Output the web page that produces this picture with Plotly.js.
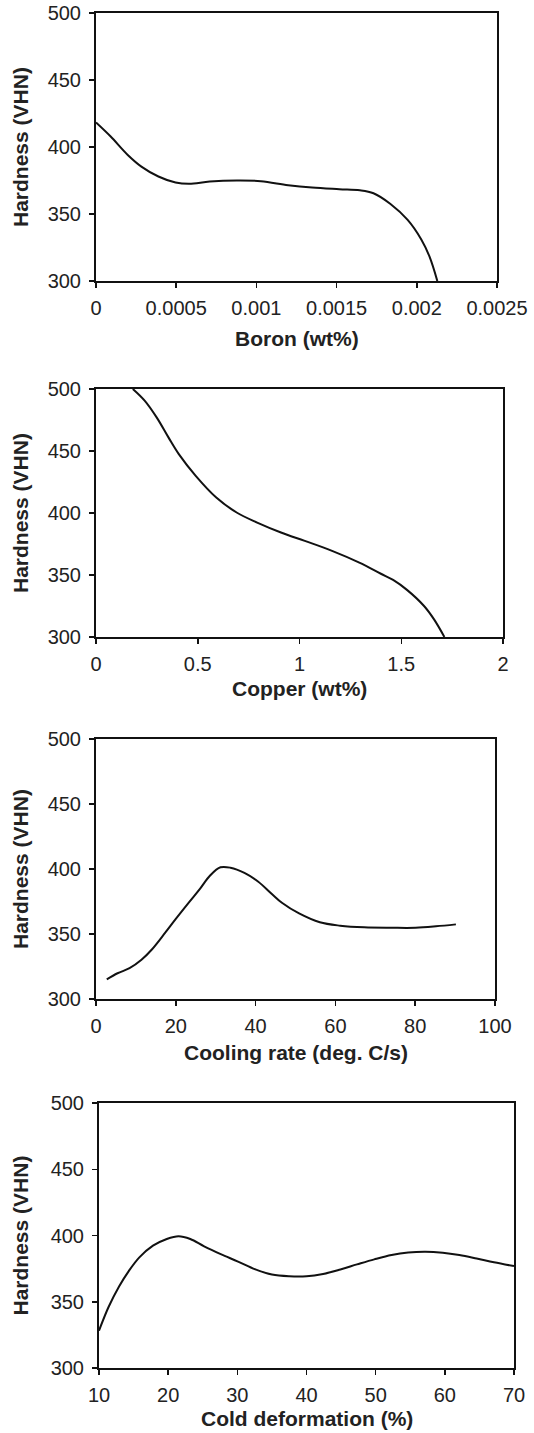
<!DOCTYPE html>
<html>
<head>
<meta charset="utf-8">
<script src="https://cdn.plot.ly/plotly-3.0.1.min.js"></script>
<style>
html,body{margin:0;padding:0;background:#fff;}
#chart{width:534px;height:1433px;}
</style>
</head>
<body>
<div id="chart"></div>
<script>
// ---- Data ----
const boronX = [0, 0.0000915, 0.000198, 0.000283, 0.000389, 0.000496, 0.000581, 0.000709, 0.000879, 0.001028, 0.001198, 0.001347, 0.001517, 0.001645, 0.00173, 0.001836, 0.001943, 0.002028, 0.00208, 0.002128];
const boronY = [418.3, 407.8, 394.1, 385.4, 378, 373.5, 372.5, 374.2, 375, 374.5, 371.5, 369.7, 368.5, 367.7, 365.5, 357.5, 345.6, 331, 318, 300];

const copperX = [0.181, 0.239, 0.298, 0.356, 0.407, 0.49, 0.591, 0.691, 0.792, 0.909, 1.026, 1.16, 1.294, 1.4, 1.46, 1.528, 1.612, 1.662, 1.712];
const copperY = [500, 490.6, 477.1, 461, 447.5, 430, 412.5, 400.4, 392.3, 384.3, 377.5, 369.5, 360, 351, 346, 338, 325, 314, 300];

const coolX = [2.7, 5.4, 8.4, 11.4, 14, 17.4, 20, 23.4, 26, 28.6, 31.2, 33.7, 37.2, 40.6, 44, 46.6, 50.9, 56.1, 61.2, 67.2, 74.1, 80.1, 85.2, 90.2];
const coolY = [315.1, 319.8, 323.7, 330.2, 338.1, 351.2, 361.6, 374.7, 384.5, 395, 401.3, 401, 397, 390.4, 381, 374, 365.8, 359, 356.4, 355.1, 354.8, 354.8, 355.9, 357.4];

const coldX = [10, 11.4, 12.9, 14.3, 15.8, 17.8, 19.8, 21.5, 23.2, 25.2, 27.6, 30.1, 32.6, 35, 37.5, 40, 42.4, 44.9, 47.3, 49.8, 52.3, 54.7, 57.2, 59.7, 62.1, 64.6, 67.1, 70];
const coldY = [328.2, 346.2, 361.5, 373.1, 383.3, 392.3, 397.4, 399.5, 397.4, 391.8, 385.9, 380.3, 374.4, 370.5, 369.2, 369.2, 371, 374.4, 378.2, 382, 385.3, 387.2, 387.8, 387, 385.2, 382.6, 379.8, 376.9];

const yTicks = [300, 350, 400, 450, 500];
const yTickText = ['300', '350', '400', '450', '500'];

const boronTicks = [0, 0.0005, 0.001, 0.0015, 0.002, 0.0025];
const boronTickText = ['0', '0.0005', '0.001', '0.0015', '0.002', '0.0025'];
const copperTicks = [0, 0.5, 1, 1.5, 2];
const copperTickText = ['0', '0.5', '1', '1.5', '2'];
const coolTicks = [0, 20, 40, 60, 80, 100];
const coolTickText = ['0', '20', '40', '60', '80', '100'];
const coldTicks = [10, 20, 30, 40, 50, 60, 70];
const coldTickText = ['10', '20', '30', '40', '50', '60', '70'];

const yTitle = 'Hardness (VHN)';
const xTitles = ['Boron (wt%)', 'Copper (wt%)', 'Cooling rate (deg. C/s)', 'Cold deformation (%)'];

// ---- Layout geometry (pixels) ----
const W = 534, H = 1433;
const boxes = [
  {l: 96, r: 497, t: 13, b: 281, xt: 338},
  {l: 96, r: 503, t: 389, b: 637, xt: 689},
  {l: 96, r: 495, t: 739, b: 999, xt: 1052},
  {l: 99, r: 514, t: 1103, b: 1368, xt: 1418}
];

const FONT = 'Liberation Sans, Arial, Helvetica, sans-serif';
const TXT = '#222';
const LINE = '#111';

const series = [
  {x: boronX, y: boronY, xr: [0, 0.0025], tv: boronTicks, tt: boronTickText},
  {x: copperX, y: copperY, xr: [0, 2], tv: copperTicks, tt: copperTickText},
  {x: coolX, y: coolY, xr: [0, 100], tv: coolTicks, tt: coolTickText},
  {x: coldX, y: coldY, xr: [10, 70], tv: coldTicks, tt: coldTickText}
];

const traces = [];
const layout = {
  width: W, height: H,
  margin: {l: 0, r: 0, t: 0, b: 0},
  paper_bgcolor: '#fff', plot_bgcolor: '#fff',
  showlegend: false,
  annotations: []
};

function axisBase() {
  return {
    showline: true, linecolor: LINE, linewidth: 2, mirror: true,
    ticks: 'outside', ticklen: 5, tickwidth: 1.5, tickcolor: LINE,
    showgrid: false, zeroline: false, fixedrange: true,
    tickfont: {family: FONT, size: 20, color: TXT},
    tickmode: 'array'
  };
}

series.forEach((s, i) => {
  const n = i === 0 ? '' : String(i + 1);
  const bx = boxes[i];
  traces.push({
    x: s.x, y: s.y, type: 'scatter', mode: 'lines',
    xaxis: 'x' + n, yaxis: 'y' + n,
    line: {color: LINE, width: 2, shape: 'spline', smoothing: 1},
    hoverinfo: 'skip'
  });
  const xa = axisBase();
  xa.range = s.xr; xa.tickvals = s.tv; xa.ticktext = s.tt;
  xa.domain = [bx.l / W, bx.r / W];
  xa.anchor = 'y' + n;
  xa.ticklabelstandoff = 3;
  const ya = axisBase();
  ya.range = [300, 500]; ya.tickvals = yTicks; ya.ticktext = yTickText;
  ya.domain = [1 - bx.b / H, 1 - bx.t / H];
  ya.anchor = 'x' + n;
  ya.ticklabelstandoff = 4;
  layout['xaxis' + n] = xa;
  layout['yaxis' + n] = ya;

  layout.annotations.push({
    text: '<b>' + xTitles[i] + '</b>', showarrow: false,
    xref: 'paper', yref: 'paper',
    x: (bx.l + bx.r) / 2 / W, y: 1 - bx.xt / H,
    xanchor: 'center', yanchor: 'middle',
    font: {family: FONT, size: 21, color: TXT}
  });
  layout.annotations.push({
    text: '<b>' + yTitle + '</b>', showarrow: false,
    xref: 'paper', yref: 'paper', textangle: -90,
    x: 20 / W, y: 1 - (bx.t + bx.b) / 2 / H,
    xanchor: 'center', yanchor: 'middle',
    font: {family: FONT, size: 21, color: TXT}
  });
});

Plotly.newPlot('chart', traces, layout, {displayModeBar: false, staticPlot: true});
</script>
</body>
</html>
